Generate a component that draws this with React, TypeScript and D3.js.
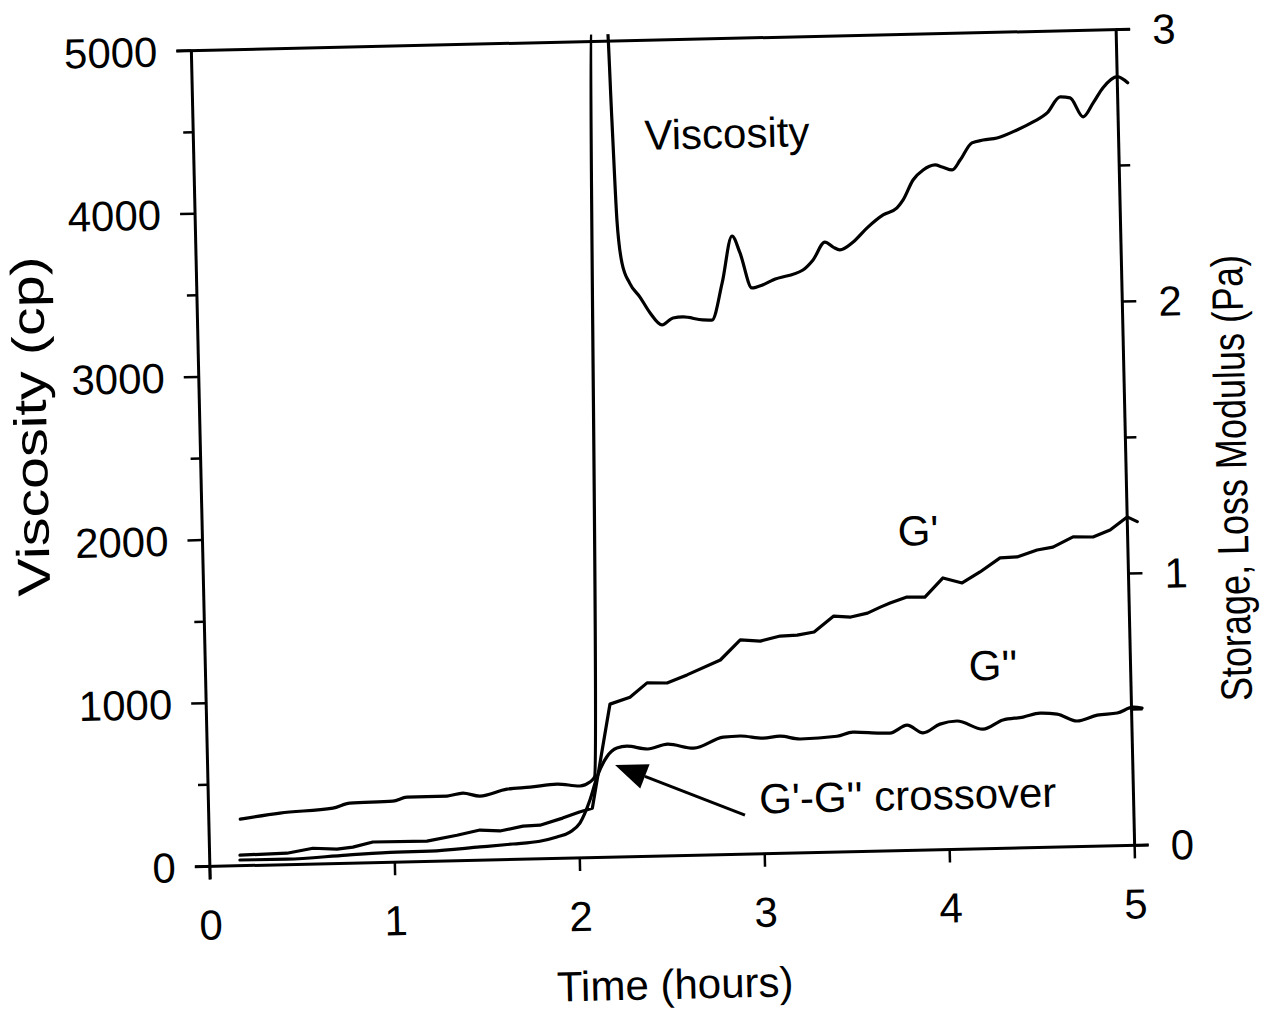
import React, { useEffect } from "react";
import * as d3 from "d3";

// ---- data ----
const viscTime = [0.17, 0.385, 0.672, 0.764, 0.997, 1.073, 1.29, 1.376, 1.468, 1.615, 1.74, 1.886, 2.01, 2.064, 2.09, 2.17, 2.25, 2.264, 2.279, 2.301, 2.34, 2.394, 2.447, 2.51, 2.57, 2.624, 2.731, 2.78, 2.84, 2.899, 2.94, 3.0, 3.058, 3.115, 3.278, 3.334, 3.4, 3.444, 3.48, 3.553, 3.63, 3.718, 3.794, 3.828, 3.884, 3.94, 4.005, 4.043, 4.097, 4.142, 4.207, 4.268, 4.343, 4.452, 4.54, 4.617, 4.689, 4.743, 4.811, 4.867, 4.922, 5.0, 5.056];
const viscValue = [285, 317, 340, 368, 374, 397, 398, 414, 393, 432, 441, 456, 441, 464, 494, 5100, 5100, 4517, 3903, 3639, 3515, 3428, 3329, 3254, 3295, 3300, 3279, 3277, 3503, 3789, 3684, 3468, 3485, 3514, 3571, 3631, 3739, 3707, 3689, 3736, 3820, 3897, 3938, 3986, 4107, 4167, 4196, 4183, 4163, 4224, 4326, 4342, 4353, 4399, 4446, 4499, 4596, 4588, 4470, 4554, 4646, 4712, 4673];

const gPrimeTime = [0.164, 0.418, 0.559, 0.689, 0.775, 0.884, 1.176, 1.339, 1.464, 1.572, 1.697, 1.789, 1.912, 2.004, 2.074, 2.182, 2.291, 2.385, 2.493, 2.602, 2.784, 2.894, 3.002, 3.11, 3.202, 3.294, 3.402, 3.494, 3.585, 3.655, 3.708, 3.8, 3.897, 3.997, 4.1, 4.198, 4.308, 4.4, 4.509, 4.595, 4.705, 4.813, 4.906, 5.0, 5.054];
const gPrimeValue = [0.039, 0.042, 0.058, 0.053, 0.059, 0.076, 0.075, 0.094, 0.111, 0.106, 0.122, 0.124, 0.148, 0.169, 0.182, 0.563, 0.587, 0.638, 0.636, 0.664, 0.716, 0.788, 0.782, 0.799, 0.801, 0.811, 0.868, 0.863, 0.876, 0.897, 0.911, 0.932, 0.93, 0.999, 0.979, 1.018, 1.068, 1.07, 1.094, 1.103, 1.139, 1.137, 1.161, 1.208, 1.19];

const gDoubleTime = [0.163, 0.417, 0.742, 1.012, 1.191, 1.462, 1.64, 1.786, 1.879, 1.95, 2.005, 2.062, 2.103, 2.158, 2.214, 2.268, 2.381, 2.489, 2.629, 2.79, 2.882, 3.006, 3.097, 3.206, 3.405, 3.491, 3.637, 3.691, 3.785, 3.87, 3.963, 4.055, 4.195, 4.304, 4.413, 4.505, 4.597, 4.704, 4.814, 4.922, 5.009, 5.057];
const gDoubleValue = [0.021, 0.02, 0.03, 0.037, 0.038, 0.049, 0.057, 0.065, 0.079, 0.096, 0.128, 0.212, 0.296, 0.369, 0.401, 0.407, 0.395, 0.411, 0.394, 0.432, 0.435, 0.425, 0.431, 0.419, 0.426, 0.44, 0.434, 0.433, 0.461, 0.431, 0.462, 0.472, 0.44, 0.472, 0.481, 0.494, 0.489, 0.462, 0.482, 0.488, 0.508, 0.504];

const xTicks = [0, 1, 2, 3, 4, 5];
const leftMajor = [0, 1000, 2000, 3000, 4000, 5000];
const leftMinor = [500, 1500, 2500, 3500, 4500];
const rightMajor = [0, 1, 2, 3];
const rightMinor = [0.5, 1.5, 2.5];

// annotation anchors in data units (time, modulus Pa) / (time, viscosity cp)
const viscLabel = { t: 2.884, v: 4421, text: "Viscosity" };
const gPrimeLabel = { t: 3.868, g: 1.176, text: "G'" };
const gDoubleLabel = { t: 4.257, g: 0.675, text: "G''" };
const crossLabel = { t: 3.78, g: 0.204, text: "G'-G'' crossover" };
const arrowTail = { t: 2.898, g: 0.144 };
const arrowTip = { t: 2.202, g: 0.339 };

const W = 1265;
const H = 1015;
const L = 200.5, R = 1125.5, T = 40, B = 856;
const FONT = "'Liberation Sans', Arial, Helvetica, sans-serif";

export default function App() {
  useEffect(() => {
    document.body.style.margin = "0";
    document.body.style.overflow = "hidden";
  }, []);

  const x = d3.scaleLinear().domain([0, 5]).range([L, R]);
  const yL = d3.scaleLinear().domain([0, 5000]).range([B, T]);
  const yR = d3.scaleLinear().domain([0, 3]).range([B, T]);

  const viscLine = d3
    .line<number>()
    .x((_, i) => x(viscTime[i]))
    .y((d) => yL(d))
    .curve(d3.curveMonotoneX);
  const gpLine = d3
    .line<number>()
    .x((_, i) => x(gPrimeTime[i]))
    .y((d) => yR(d))
    .curve(d3.curveLinear);
  const gdLine = d3
    .line<number>()
    .x((_, i) => x(gDoubleTime[i]))
    .y((d) => yR(d))
    .curve(d3.curveMonotoneX);

  const ax = x(arrowTail.t), ay = yR(arrowTail.g);
  const tx = x(arrowTip.t), ty = yR(arrowTip.g);
  const ang = Math.atan2(ty - ay, tx - ax);
  const headLen = 32, headW = 13;
  const bx = tx - headLen * Math.cos(ang), by = ty - headLen * Math.sin(ang);
  const p1 = [bx + headW * Math.sin(ang), by - headW * Math.cos(ang)];
  const p2 = [bx - headW * Math.sin(ang), by + headW * Math.cos(ang)];

  const sw = 3.2;
  return (
    <svg
      width={W}
      height={H}
      style={{ position: "absolute", left: 0, top: 0, background: "#fff" }}
      fontFamily={FONT}
    >
      <rect x={0} y={0} width={W} height={H} fill="#fff" />
      <defs>
        <clipPath id="plotclip">
          <rect x={0} y={T - 7} width={W} height={H} />
        </clipPath>
      </defs>
      <g transform="rotate(-1.3, 663, 448)">
        {/* frame */}
        <line x1={L - 15} x2={R + 14} y1={T} y2={T} stroke="#000" strokeWidth={3} />
        <line x1={L} x2={L} y1={T} y2={B + 13} stroke="#000" strokeWidth={3} />
        <line x1={R} x2={R} y1={T} y2={B} stroke="#000" strokeWidth={3} />
        <line x1={L - 15} x2={R + 14} y1={B} y2={B} stroke="#000" strokeWidth={3} />

        {/* x ticks */}
        {xTicks.map((t) => (
          <g key={"x" + t}>
            <line x1={x(t)} x2={x(t)} y1={B} y2={B + 13} stroke="#000" strokeWidth={2.5} />
            <text x={x(t)} y={B + 73} textAnchor="middle" fontSize={42} fill="#000">
              {t}
            </text>
          </g>
        ))}
        {/* left ticks */}
        {leftMajor.map((v) => (
          <g key={"l" + v}>
            <line x1={L - 15} x2={L} y1={yL(v)} y2={yL(v)} stroke="#000" strokeWidth={2.5} />
            <text x={L - 34} y={yL(v) + 15} textAnchor="end" fontSize={42} fill="#000">
              {v}
            </text>
          </g>
        ))}
        {leftMinor.map((v) => (
          <line key={"lm" + v} x1={L - 10} x2={L} y1={yL(v)} y2={yL(v)} stroke="#000" strokeWidth={2.5} />
        ))}
        {/* right ticks */}
        {rightMajor.map((v) => (
          <g key={"r" + v}>
            <line x1={R} x2={R + 14} y1={yR(v)} y2={yR(v)} stroke="#000" strokeWidth={2.5} />
            <text x={R + 36} y={yR(v) + 15} textAnchor="start" fontSize={42} fill="#000">
              {v}
            </text>
          </g>
        ))}
        {rightMinor.map((v) => (
          <line key={"rm" + v} x1={R} x2={R + 11} y1={yR(v)} y2={yR(v)} stroke="#000" strokeWidth={2.5} />
        ))}

        {/* axis titles */}
        <text x={663} y={999} textAnchor="middle" fontSize={42} fill="#000">
          Time (hours)
        </text>
        <text
          transform={`translate(47, 412) rotate(-90)`}
          textAnchor="middle"
          fontSize={46}
          textLength={340}
          lengthAdjust="spacingAndGlyphs"
          fill="#000"
        >
          Viscosity (cp)
        </text>
        <text
          transform={`translate(1246, 491) rotate(-90)`}
          textAnchor="middle"
          fontSize={44}
          textLength={446}
          lengthAdjust="spacingAndGlyphs"
          fill="#000"
        >
          Storage, Loss Modulus (Pa)
        </text>

        {/* series */}
        <g clipPath="url(#plotclip)" fill="none" stroke="#000" strokeWidth={sw} strokeLinejoin="round" strokeLinecap="round">
          <path d={viscLine(viscValue) || ""} />
          <path d={gpLine(gPrimeValue) || ""} />
          <path d={gdLine(gDoubleValue) || ""} />
        </g>

        {/* annotations */}
        <text x={x(viscLabel.t)} y={yL(viscLabel.v) + 15} textAnchor="middle" fontSize={42} fill="#000">
          {viscLabel.text}
        </text>
        <text x={x(gPrimeLabel.t)} y={yR(gPrimeLabel.g) + 15} textAnchor="middle" fontSize={42} fill="#000">
          {gPrimeLabel.text}
        </text>
        <text x={x(gDoubleLabel.t)} y={yR(gDoubleLabel.g) + 15} textAnchor="middle" fontSize={42} fill="#000">
          {gDoubleLabel.text}
        </text>
        <text x={x(crossLabel.t)} y={yR(crossLabel.g) + 15} textAnchor="middle" fontSize={42} fill="#000">
          {crossLabel.text}
        </text>
        <line x1={ax} y1={ay} x2={bx} y2={by} stroke="#000" strokeWidth={3} />
        <polygon points={`${tx},${ty} ${p1[0]},${p1[1]} ${p2[0]},${p2[1]}`} fill="#000" />
      </g>
    </svg>
  );
}
